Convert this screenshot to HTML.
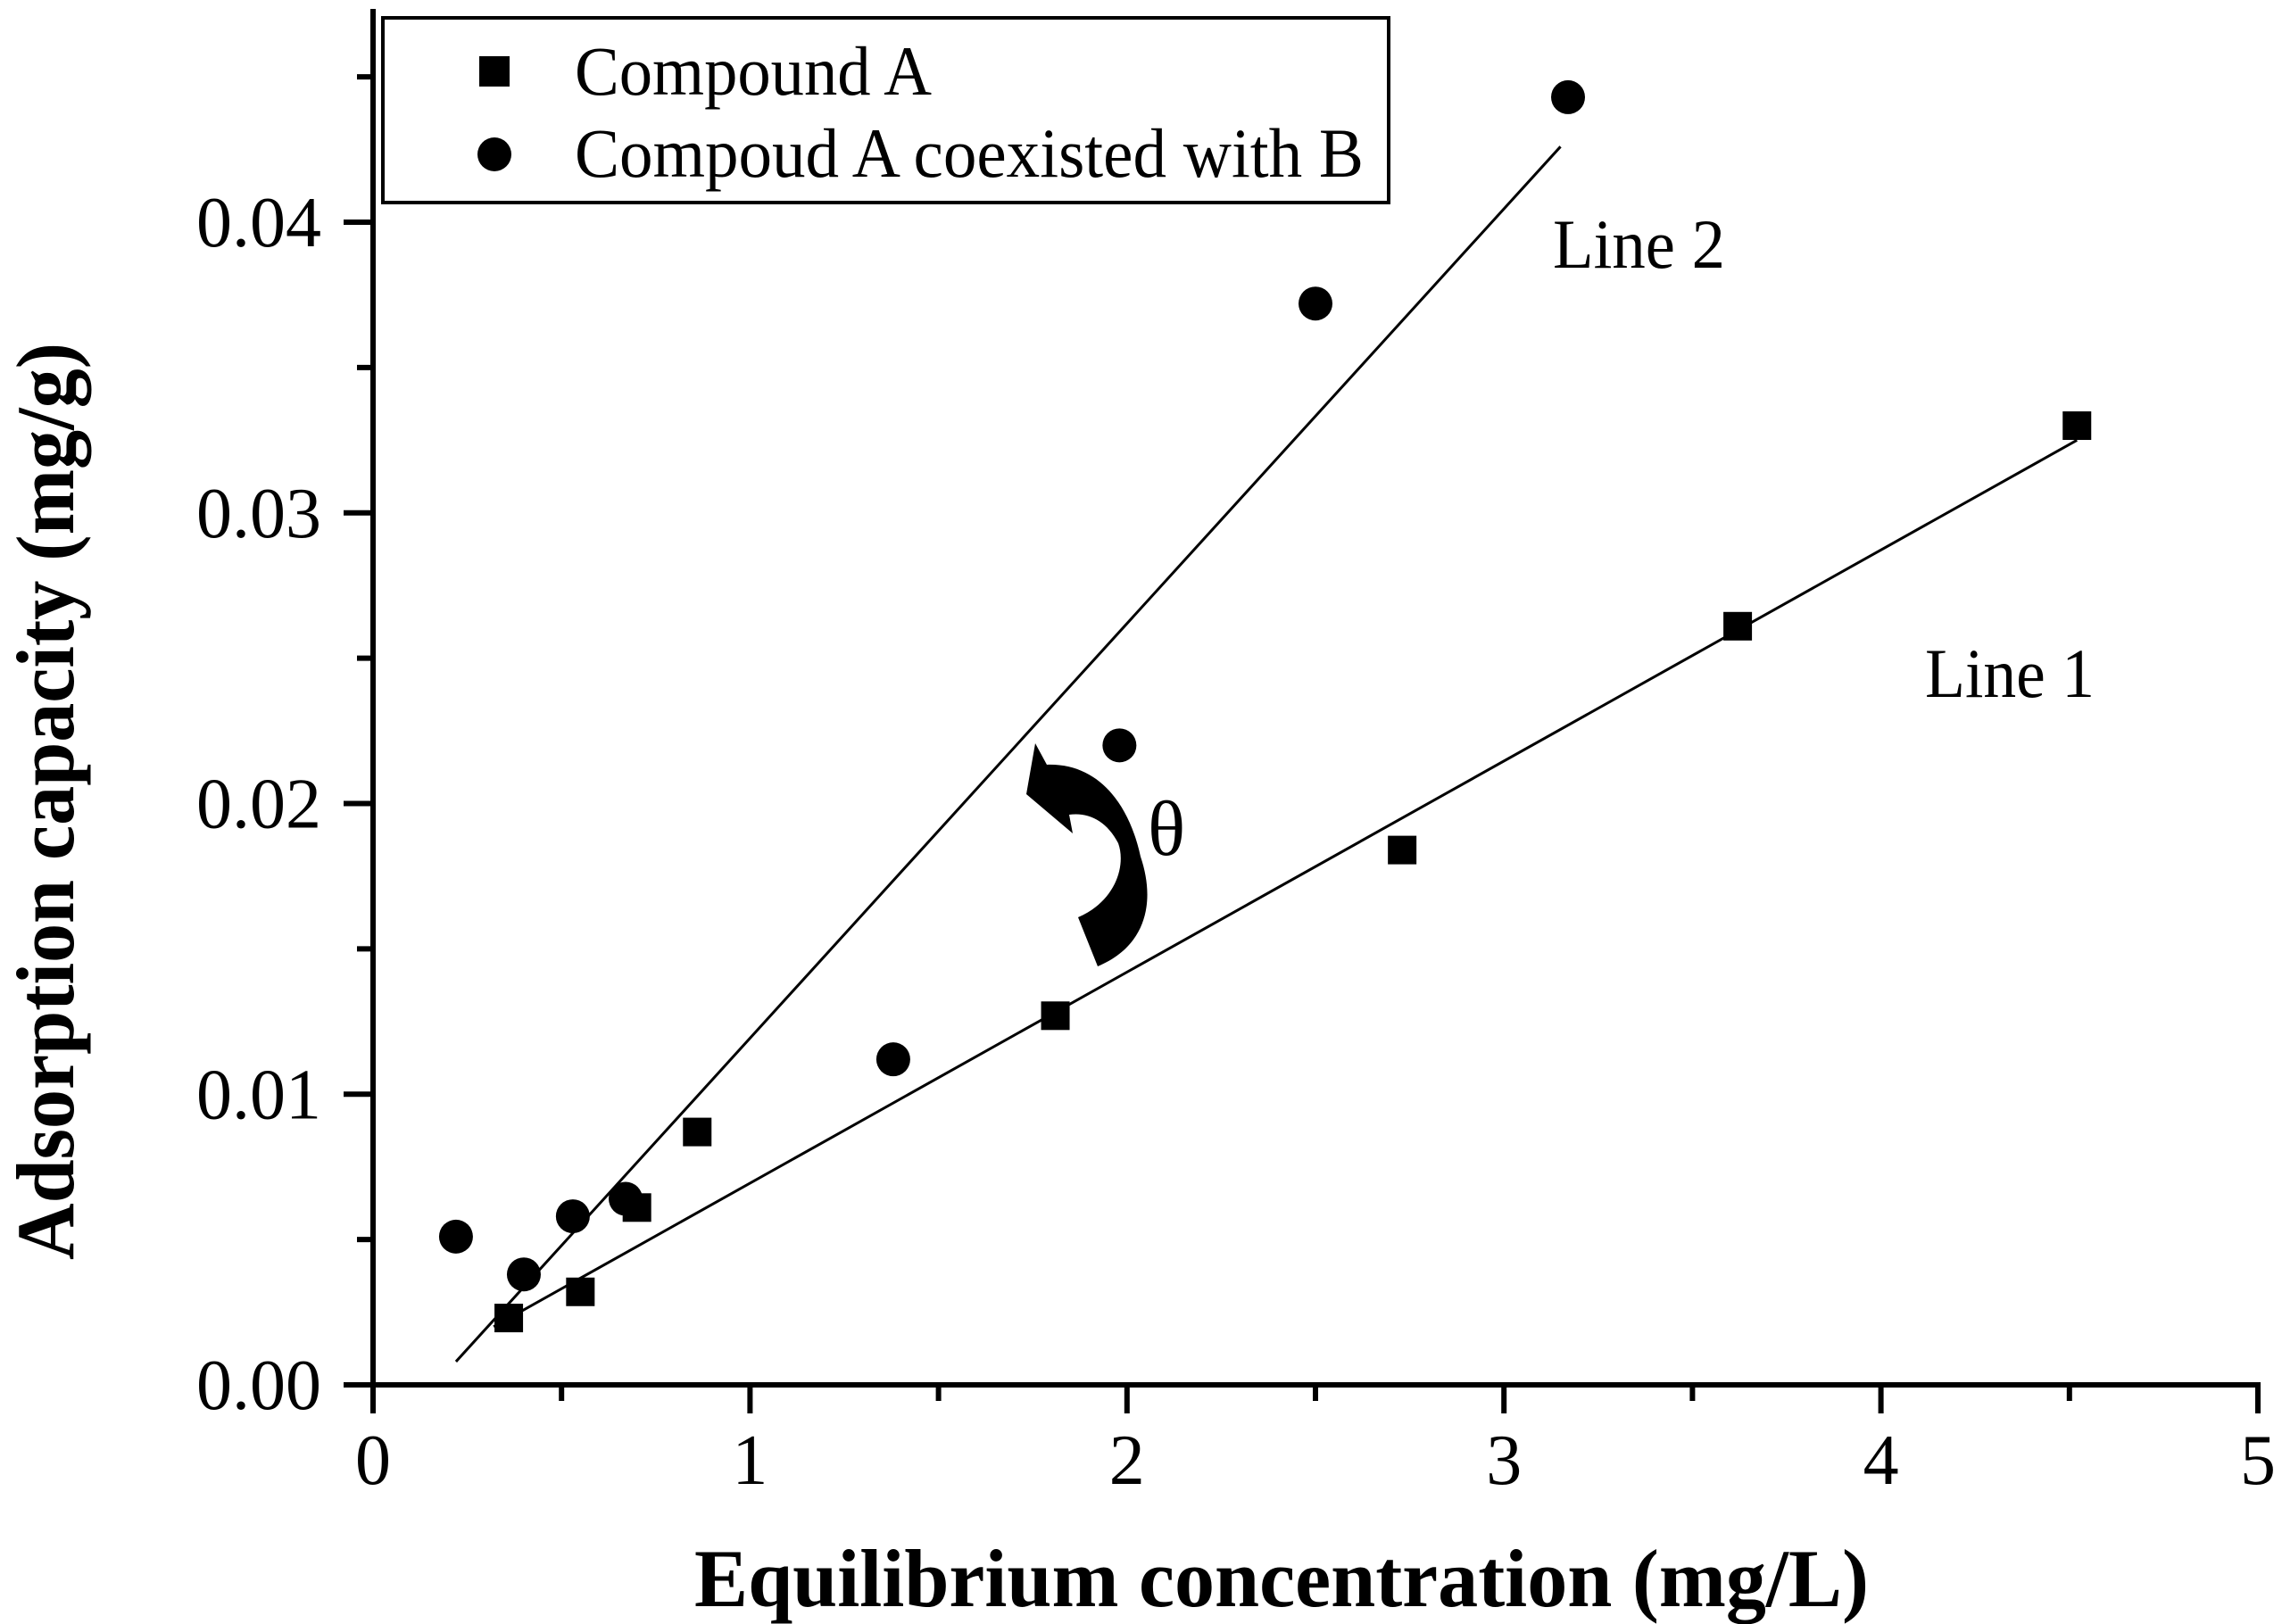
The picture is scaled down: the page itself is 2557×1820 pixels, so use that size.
<!DOCTYPE html>
<html><head><meta charset="utf-8"><style>
html,body{margin:0;padding:0;background:#fff;}
svg{display:block;font-family:"Liberation Serif",serif;}
</style></head><body>
<svg id="chart" width="2557" height="1820" viewBox="0 0 2557 1820" xmlns="http://www.w3.org/2000/svg">
<g id="axes"></g>
<g id="fits"></g>
<g id="marks"></g>
<path d="M1160,833 L1173,857 C1230,855 1265,900 1278,960 C1295,1010 1285,1060 1230,1083 L1208,1028 C1250,1010 1262,970 1253,945 C1240,920 1220,910 1198,913 L1202,934 L1150,890 Z" fill="#000"/>
<text x="1286" y="958" font-size="88">θ</text>
<text x="1740" y="300" font-size="78" textLength="193" lengthAdjust="spacingAndGlyphs">Line 2</text>
<text x="2157" y="781" font-size="78" textLength="190" lengthAdjust="spacingAndGlyphs">Line 1</text>
<g>
<rect x="429" y="20" width="1127" height="207" fill="none" stroke="#000" stroke-width="4"/>
<rect x="537" y="63" width="34" height="34" fill="#000"/>
<text x="644" y="106" font-size="78" textLength="400" lengthAdjust="spacingAndGlyphs">Compound A</text>
<circle cx="554" cy="173" r="19" fill="#000"/>
<text x="644" y="198" font-size="78" textLength="884" lengthAdjust="spacingAndGlyphs">Compoud A coexisted with B</text>
</g>
<text x="1436" y="1800" font-size="92" font-weight="bold" text-anchor="middle" textLength="1316" lengthAdjust="spacingAndGlyphs">Equilibrium concentration (mg/L)</text>
<text transform="translate(82,898) rotate(-90)" font-size="92" font-weight="bold" text-anchor="middle" textLength="1028" lengthAdjust="spacingAndGlyphs">Adsorption capacity (mg/g)</text>
</svg>
<script>
const xTicks = [0, 1, 2, 3, 4, 5];
const xTickLabels = ["0", "1", "2", "3", "4", "5"];
const yTicks = [0, 0.01, 0.02, 0.03, 0.04];
const yTickLabels = ["0.00", "0.01", "0.02", "0.03", "0.04"];
const compoundAX = [0.36, 0.55, 0.70, 0.86, 1.81, 2.73, 3.62, 4.52];
const compoundAY = [0.0023, 0.0032, 0.0061, 0.0087, 0.0127, 0.0184, 0.0261, 0.0330];
const coexistX = [0.22, 0.40, 0.53, 0.67, 1.38, 1.98, 2.50, 3.17];
const coexistY = [0.0051, 0.0038, 0.0058, 0.0064, 0.0112, 0.0220, 0.0372, 0.0443];
const line1X = [0.32, 4.52];
const line1Y = [0.0020, 0.0325];
const line2X = [0.22, 3.15];
const line2Y = [0.0008, 0.0426];

const NS = "http://www.w3.org/2000/svg";
const X0 = 418, X1 = 2530, Y0 = 1552, Y04 = 249;
const sx = v => X0 + (X1 - X0) * v / 5;
const sy = v => Y0 - (Y0 - Y04) * v / 0.04;
function mk(tag, attrs, parent, txt) {
  const e = document.createElementNS(NS, tag);
  for (const k in attrs) e.setAttribute(k, attrs[k]);
  if (txt !== undefined) e.textContent = txt;
  parent.appendChild(e);
  return e;
}
const axes = document.getElementById("axes");
let e;
e = mk("line", {x1: X0, y1: 10, x2: X0, y2: Y0 + 3, stroke: "#000", "stroke-width": 6}, axes);


e = mk("line", {x1: X0 - 3, y1: Y0, x2: X1 + 3, y2: Y0, stroke: "#000", "stroke-width": 6}, axes);


xTicks.forEach((t, i) => {
  const l = mk("line", {x1: sx(t), y1: Y0, x2: sx(t), y2: Y0 + 32, stroke: "#000", "stroke-width": 6}, axes);
  
  
  const tx = mk("text", {x: sx(t), y: 1663, "font-size": 80, "text-anchor": "middle"}, axes, xTickLabels[i]);
  
  
  if (i < xTicks.length - 1) {
    const m = mk("line", {x1: sx(t + 0.5), y1: Y0, x2: sx(t + 0.5), y2: Y0 + 18, stroke: "#000", "stroke-width": 6}, axes);
    
    
  }
});
yTicks.forEach((t, i) => {
  const l = mk("line", {x1: X0 - 33, y1: sy(t), x2: X0, y2: sy(t), stroke: "#000", "stroke-width": 6}, axes);
  
  
  const tx = mk("text", {x: 360, y: sy(t) + 27, "font-size": 80, "text-anchor": "end"}, axes, yTickLabels[i]);
  
  
  const m = mk("line", {x1: X0 - 18, y1: sy(t + 0.005), x2: X0, y2: sy(t + 0.005), stroke: "#000", "stroke-width": 6}, axes);
  
  
});
const fits = document.getElementById("fits");
e = mk("line", {x1: sx(line1X[0]), y1: sy(line1Y[0]), x2: sx(line1X[1]), y2: sy(line1Y[1]), stroke: "#000", "stroke-width": 3}, fits);


e = mk("line", {x1: sx(line2X[0]), y1: sy(line2Y[0]), x2: sx(line2X[1]), y2: sy(line2Y[1]), stroke: "#000", "stroke-width": 3}, fits);


const marks = document.getElementById("marks");
compoundAX.forEach((x, i) => {
  const r = mk("rect", {x: sx(x) - 16, y: sy(compoundAY[i]) - 16, width: 32, height: 32, fill: "#000"}, marks);
  
  
});
coexistX.forEach((x, i) => {
  const c = mk("circle", {cx: sx(x), cy: sy(coexistY[i]), r: 19, fill: "#000"}, marks);
  
  
});
</script>
</body></html>
